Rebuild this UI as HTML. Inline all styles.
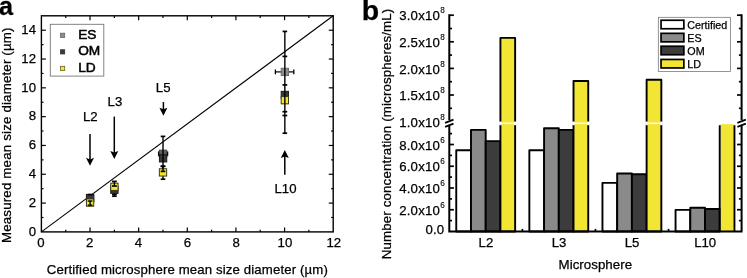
<!DOCTYPE html><html><head><meta charset="utf-8"><title>Figure</title><style>html,body{margin:0;padding:0;background:#fff}svg{display:block}text{font-family:"Liberation Sans",Arial,sans-serif;fill:#000;stroke:#000;stroke-width:0.25px}</style></head><body>
<svg width="747" height="278" viewBox="0 0 747 278">
<rect width="747" height="278" fill="#fff"/>
<g id="panelA">
<text transform="translate(-0.9,14.9) scale(0.95,1)" font-size="26.6" font-weight="bold">a</text>
<line x1="41.4" y1="231.9" x2="333.2" y2="15.8" stroke="#000" stroke-width="1.12"/>
<rect x="41.4" y="15.8" width="291.8" height="216.1" fill="none" stroke="#000" stroke-width="1.4"/>
<text x="36.0" y="235.60" font-size="13.2" text-anchor="end">0</text>
<line x1="41.4" y1="217.49" x2="43.5" y2="217.49" stroke="#000" stroke-width="1.2"/>
<line x1="333.2" y1="217.49" x2="331.09999999999997" y2="217.49" stroke="#000" stroke-width="1.2"/>
<line x1="41.4" y1="203.09" x2="45.8" y2="203.09" stroke="#000" stroke-width="1.2"/>
<line x1="333.2" y1="203.09" x2="328.8" y2="203.09" stroke="#000" stroke-width="1.2"/>
<text x="36.0" y="206.79" font-size="13.2" text-anchor="end">2</text>
<line x1="41.4" y1="188.68" x2="43.5" y2="188.68" stroke="#000" stroke-width="1.2"/>
<line x1="333.2" y1="188.68" x2="331.09999999999997" y2="188.68" stroke="#000" stroke-width="1.2"/>
<line x1="41.4" y1="174.27" x2="45.8" y2="174.27" stroke="#000" stroke-width="1.2"/>
<line x1="333.2" y1="174.27" x2="328.8" y2="174.27" stroke="#000" stroke-width="1.2"/>
<text x="36.0" y="177.97" font-size="13.2" text-anchor="end">4</text>
<line x1="41.4" y1="159.87" x2="43.5" y2="159.87" stroke="#000" stroke-width="1.2"/>
<line x1="333.2" y1="159.87" x2="331.09999999999997" y2="159.87" stroke="#000" stroke-width="1.2"/>
<line x1="41.4" y1="145.46" x2="45.8" y2="145.46" stroke="#000" stroke-width="1.2"/>
<line x1="333.2" y1="145.46" x2="328.8" y2="145.46" stroke="#000" stroke-width="1.2"/>
<text x="36.0" y="149.16" font-size="13.2" text-anchor="end">6</text>
<line x1="41.4" y1="131.05" x2="43.5" y2="131.05" stroke="#000" stroke-width="1.2"/>
<line x1="333.2" y1="131.05" x2="331.09999999999997" y2="131.05" stroke="#000" stroke-width="1.2"/>
<line x1="41.4" y1="116.65" x2="45.8" y2="116.65" stroke="#000" stroke-width="1.2"/>
<line x1="333.2" y1="116.65" x2="328.8" y2="116.65" stroke="#000" stroke-width="1.2"/>
<text x="36.0" y="120.35" font-size="13.2" text-anchor="end">8</text>
<line x1="41.4" y1="102.24" x2="43.5" y2="102.24" stroke="#000" stroke-width="1.2"/>
<line x1="333.2" y1="102.24" x2="331.09999999999997" y2="102.24" stroke="#000" stroke-width="1.2"/>
<line x1="41.4" y1="87.83" x2="45.8" y2="87.83" stroke="#000" stroke-width="1.2"/>
<line x1="333.2" y1="87.83" x2="328.8" y2="87.83" stroke="#000" stroke-width="1.2"/>
<text x="36.0" y="91.53" font-size="13.2" text-anchor="end">10</text>
<line x1="41.4" y1="73.43" x2="43.5" y2="73.43" stroke="#000" stroke-width="1.2"/>
<line x1="333.2" y1="73.43" x2="331.09999999999997" y2="73.43" stroke="#000" stroke-width="1.2"/>
<line x1="41.4" y1="59.02" x2="45.8" y2="59.02" stroke="#000" stroke-width="1.2"/>
<line x1="333.2" y1="59.02" x2="328.8" y2="59.02" stroke="#000" stroke-width="1.2"/>
<text x="36.0" y="62.72" font-size="13.2" text-anchor="end">12</text>
<line x1="41.4" y1="44.61" x2="43.5" y2="44.61" stroke="#000" stroke-width="1.2"/>
<line x1="333.2" y1="44.61" x2="331.09999999999997" y2="44.61" stroke="#000" stroke-width="1.2"/>
<line x1="41.4" y1="30.21" x2="45.8" y2="30.21" stroke="#000" stroke-width="1.2"/>
<line x1="333.2" y1="30.21" x2="328.8" y2="30.21" stroke="#000" stroke-width="1.2"/>
<text x="36.0" y="33.91" font-size="13.2" text-anchor="end">14</text>
<text x="40.90" y="247.0" font-size="13.2" text-anchor="middle">0</text>
<line x1="65.72" y1="231.9" x2="65.72" y2="229.8" stroke="#000" stroke-width="1.2"/>
<line x1="65.72" y1="15.8" x2="65.72" y2="17.900000000000002" stroke="#000" stroke-width="1.2"/>
<line x1="90.03" y1="231.9" x2="90.03" y2="227.5" stroke="#000" stroke-width="1.2"/>
<line x1="90.03" y1="15.8" x2="90.03" y2="20.200000000000003" stroke="#000" stroke-width="1.2"/>
<text x="89.70" y="247.0" font-size="13.2" text-anchor="middle">2</text>
<line x1="114.35" y1="231.9" x2="114.35" y2="229.8" stroke="#000" stroke-width="1.2"/>
<line x1="114.35" y1="15.8" x2="114.35" y2="17.900000000000002" stroke="#000" stroke-width="1.2"/>
<line x1="138.67" y1="231.9" x2="138.67" y2="227.5" stroke="#000" stroke-width="1.2"/>
<line x1="138.67" y1="15.8" x2="138.67" y2="20.200000000000003" stroke="#000" stroke-width="1.2"/>
<text x="138.51" y="247.0" font-size="13.2" text-anchor="middle">4</text>
<line x1="162.98" y1="231.9" x2="162.98" y2="229.8" stroke="#000" stroke-width="1.2"/>
<line x1="162.98" y1="15.8" x2="162.98" y2="17.900000000000002" stroke="#000" stroke-width="1.2"/>
<line x1="187.30" y1="231.9" x2="187.30" y2="227.5" stroke="#000" stroke-width="1.2"/>
<line x1="187.30" y1="15.8" x2="187.30" y2="20.200000000000003" stroke="#000" stroke-width="1.2"/>
<text x="187.31" y="247.0" font-size="13.2" text-anchor="middle">6</text>
<line x1="211.62" y1="231.9" x2="211.62" y2="229.8" stroke="#000" stroke-width="1.2"/>
<line x1="211.62" y1="15.8" x2="211.62" y2="17.900000000000002" stroke="#000" stroke-width="1.2"/>
<line x1="235.93" y1="231.9" x2="235.93" y2="227.5" stroke="#000" stroke-width="1.2"/>
<line x1="235.93" y1="15.8" x2="235.93" y2="20.200000000000003" stroke="#000" stroke-width="1.2"/>
<text x="236.11" y="247.0" font-size="13.2" text-anchor="middle">8</text>
<line x1="260.25" y1="231.9" x2="260.25" y2="229.8" stroke="#000" stroke-width="1.2"/>
<line x1="260.25" y1="15.8" x2="260.25" y2="17.900000000000002" stroke="#000" stroke-width="1.2"/>
<line x1="284.57" y1="231.9" x2="284.57" y2="227.5" stroke="#000" stroke-width="1.2"/>
<line x1="284.57" y1="15.8" x2="284.57" y2="20.200000000000003" stroke="#000" stroke-width="1.2"/>
<text x="284.92" y="247.0" font-size="13.2" text-anchor="middle">10</text>
<line x1="308.88" y1="231.9" x2="308.88" y2="229.8" stroke="#000" stroke-width="1.2"/>
<line x1="308.88" y1="15.8" x2="308.88" y2="17.900000000000002" stroke="#000" stroke-width="1.2"/>
<text x="333.72" y="247.0" font-size="13.2" text-anchor="middle">12</text>
<text x="46.8" y="273.5" font-size="13.2" textLength="281" lengthAdjust="spacing">Certified microsphere mean size diameter (µm)</text>
<text transform="translate(11.2,243) rotate(-90)" font-size="13.3" textLength="215.5" lengthAdjust="spacing">Measured mean size diameter (µm)</text>
<rect x="50.3" y="24.3" width="53.5" height="51.8" fill="#fff" stroke="#777" stroke-width="0.9"/>
<rect x="60.5" y="33.20" width="4.2" height="4.2" fill="#8c8c8c" stroke="#666" stroke-width="0.8"/>
<text x="78.2" y="38.70" font-size="13.7" style="stroke-width:0.55px">ES</text>
<rect x="60.5" y="49.75" width="4.2" height="4.2" fill="#3a3a3a" stroke="#333" stroke-width="0.8"/>
<text x="78.2" y="55.25" font-size="13.7" style="stroke-width:0.55px">OM</text>
<rect x="60.5" y="66.30" width="4.2" height="4.2" fill="#f4e62a" stroke="#6a6420" stroke-width="0.8"/>
<text x="78.2" y="71.80" font-size="13.7" style="stroke-width:0.55px">LD</text>
<rect x="86.45" y="194.35" width="7.3" height="7.3" fill="#8c8c8c" stroke="#6e6e6e" stroke-width="1.0"/>
<rect x="86.45" y="194.45" width="7.3" height="7.3" fill="#383838" stroke="#1c1c1c" stroke-width="1.0"/>
<rect x="86.45" y="198.95" width="7.3" height="7.3" fill="#f4e62a" stroke="#3a3a20" stroke-width="1.0"/>
<line x1="90.10" y1="201.00" x2="90.10" y2="205.20" stroke="#000" stroke-width="1.4"/>
<line x1="87.70" y1="201.00" x2="92.50" y2="201.00" stroke="#000" stroke-width="1.4"/>
<line x1="87.70" y1="205.20" x2="92.50" y2="205.20" stroke="#000" stroke-width="1.4"/>
<line x1="87.90" y1="194.60" x2="92.30" y2="194.60" stroke="#000" stroke-width="1.7"/>
<line x1="114.40" y1="189.00" x2="114.40" y2="196.20" stroke="#000" stroke-width="1.4"/><line x1="112.10" y1="189.00" x2="116.70" y2="189.00" stroke="#000" stroke-width="1.7"/><line x1="112.10" y1="196.20" x2="116.70" y2="196.20" stroke="#000" stroke-width="1.7"/>
<line x1="112.00" y1="194.40" x2="116.80" y2="194.40" stroke="#000" stroke-width="1.7"/>
<rect x="110.75" y="186.05" width="7.3" height="7.3" fill="#383838" stroke="#1c1c1c" stroke-width="1.0"/>
<rect x="110.75" y="183.15" width="7.3" height="7.3" fill="#f4e62a" stroke="#3a3a20" stroke-width="1.0"/>
<line x1="114.40" y1="181.40" x2="114.40" y2="186.00" stroke="#000" stroke-width="1.4"/>
<line x1="112.00" y1="181.40" x2="116.80" y2="181.40" stroke="#000" stroke-width="1.7"/>
<line x1="112.00" y1="186.00" x2="116.80" y2="186.00" stroke="#000" stroke-width="1.7"/>
<line x1="163.00" y1="166.40" x2="163.00" y2="179.20" stroke="#000" stroke-width="1.4"/><line x1="160.70" y1="166.40" x2="165.30" y2="166.40" stroke="#000" stroke-width="1.7"/><line x1="160.70" y1="179.20" x2="165.30" y2="179.20" stroke="#000" stroke-width="1.7"/>
<rect x="159.35" y="168.75" width="7.3" height="7.3" fill="#f4e62a" stroke="#3a3a20" stroke-width="1.0"/>
<line x1="158.60" y1="153.80" x2="167.60" y2="153.80" stroke="#000" stroke-width="1.2"/><line x1="158.60" y1="151.40" x2="158.60" y2="156.20" stroke="#000" stroke-width="1.3"/><line x1="167.60" y1="151.40" x2="167.60" y2="156.20" stroke="#000" stroke-width="1.3"/>
<rect x="159.35" y="150.15" width="7.3" height="7.3" fill="#5e5e5e" stroke="#444" stroke-width="1.0"/>
<rect x="159.45" y="154.65" width="7.3" height="7.3" fill="#383838" stroke="#1c1c1c" stroke-width="1.0"/>
<line x1="163.00" y1="136.40" x2="163.00" y2="171.40" stroke="#000" stroke-width="1.4"/><line x1="160.70" y1="136.40" x2="165.30" y2="136.40" stroke="#000" stroke-width="1.7"/><line x1="160.70" y1="171.40" x2="165.30" y2="171.40" stroke="#000" stroke-width="1.7"/>
<line x1="160.60" y1="166.20" x2="165.40" y2="166.20" stroke="#000" stroke-width="1.7"/>
<line x1="275.40" y1="71.90" x2="293.80" y2="71.90" stroke="#000" stroke-width="1.2"/><line x1="275.40" y1="69.50" x2="275.40" y2="74.30" stroke="#000" stroke-width="1.3"/><line x1="293.80" y1="69.50" x2="293.80" y2="74.30" stroke="#000" stroke-width="1.3"/>
<rect x="281.20" y="68.25" width="7.3" height="7.3" fill="#8c8c8c" stroke="#6e6e6e" stroke-width="1.0"/>
<rect x="281.20" y="91.35" width="7.3" height="7.3" fill="#383838" stroke="#1c1c1c" stroke-width="1.0"/>
<rect x="281.20" y="96.55" width="7.3" height="7.3" fill="#f4e62a" stroke="#3a3a20" stroke-width="1.0"/>
<line x1="284.85" y1="31.40" x2="284.85" y2="133.20" stroke="#000" stroke-width="1.4"/><line x1="282.55" y1="31.40" x2="287.15" y2="31.40" stroke="#000" stroke-width="1.7"/><line x1="282.55" y1="133.20" x2="287.15" y2="133.20" stroke="#000" stroke-width="1.7"/>
<line x1="282.45" y1="56.40" x2="287.25" y2="56.40" stroke="#000" stroke-width="1.7"/>
<line x1="282.45" y1="84.90" x2="287.25" y2="84.90" stroke="#000" stroke-width="1.7"/>
<line x1="282.45" y1="111.70" x2="287.25" y2="111.70" stroke="#000" stroke-width="1.7"/>
<line x1="282.45" y1="115.50" x2="287.25" y2="115.50" stroke="#000" stroke-width="1.7"/>
<line x1="90.0" y1="134.0" x2="90.0" y2="161.0" stroke="#000" stroke-width="1.5"/><polygon points="86.0,157.8 90.0,159.4 94.0,157.8 90.0,165.8" fill="#000"/>
<text x="90.3" y="121.4" font-size="13.2" text-anchor="middle">L2</text>
<line x1="114.3" y1="116.6" x2="114.3" y2="154.2" stroke="#000" stroke-width="1.5"/><polygon points="110.3,151.0 114.3,152.6 118.3,151.0 114.3,159.0" fill="#000"/>
<text x="114.9" y="106.2" font-size="13.2" text-anchor="middle">L3</text>
<line x1="163.4" y1="102" x2="163.4" y2="110.9" stroke="#000" stroke-width="1.5"/><polygon points="159.4,107.7 163.4,109.3 167.4,107.7 163.4,115.7" fill="#000"/>
<text x="163.2" y="91.9" font-size="13.2" text-anchor="middle">L5</text>
<line x1="284.8" y1="174.7" x2="284.8" y2="154.8" stroke="#000" stroke-width="1.5"/><polygon points="280.8,158.0 284.8,156.4 288.8,158.0 284.8,150.0" fill="#000"/>
<text x="285.5" y="193.0" font-size="13.2" text-anchor="middle">L10</text>
</g>
<g id="panelB">
<text x="361.7" y="20.2" font-size="28.5" font-weight="bold">b</text>
<rect x="456.26" y="150.20" width="14.72" height="81.30" fill="#fff" stroke="#000" stroke-width="1.9" stroke-linejoin="round"/>
<rect x="470.98" y="129.90" width="14.72" height="101.60" fill="#8a8a8a" stroke="#000" stroke-width="1.9" stroke-linejoin="round"/>
<rect x="485.70" y="141.10" width="14.72" height="90.40" fill="#3c3c3c" stroke="#000" stroke-width="1.9" stroke-linejoin="round"/>
<rect x="500.42" y="37.90" width="14.72" height="193.60" fill="#f2e533" stroke="#000" stroke-width="1.9" stroke-linejoin="round"/>
<rect x="529.36" y="150.20" width="14.72" height="81.30" fill="#fff" stroke="#000" stroke-width="1.9" stroke-linejoin="round"/>
<rect x="544.08" y="128.30" width="14.72" height="103.20" fill="#8a8a8a" stroke="#000" stroke-width="1.9" stroke-linejoin="round"/>
<rect x="558.80" y="129.90" width="14.72" height="101.60" fill="#3c3c3c" stroke="#000" stroke-width="1.9" stroke-linejoin="round"/>
<rect x="573.52" y="81.00" width="14.72" height="150.50" fill="#f2e533" stroke="#000" stroke-width="1.9" stroke-linejoin="round"/>
<rect x="602.46" y="182.90" width="14.72" height="48.60" fill="#fff" stroke="#000" stroke-width="1.9" stroke-linejoin="round"/>
<rect x="617.18" y="173.50" width="14.72" height="58.00" fill="#8a8a8a" stroke="#000" stroke-width="1.9" stroke-linejoin="round"/>
<rect x="631.90" y="174.30" width="14.72" height="57.20" fill="#3c3c3c" stroke="#000" stroke-width="1.9" stroke-linejoin="round"/>
<rect x="646.62" y="79.80" width="14.72" height="151.70" fill="#f2e533" stroke="#000" stroke-width="1.9" stroke-linejoin="round"/>
<rect x="675.56" y="209.90" width="14.72" height="21.60" fill="#fff" stroke="#000" stroke-width="1.9" stroke-linejoin="round"/>
<rect x="690.28" y="207.70" width="14.72" height="23.80" fill="#8a8a8a" stroke="#000" stroke-width="1.9" stroke-linejoin="round"/>
<rect x="705.00" y="209.00" width="14.72" height="22.50" fill="#3c3c3c" stroke="#000" stroke-width="1.9" stroke-linejoin="round"/>
<rect x="720.62" y="124.10" width="12.92" height="107.40" fill="#f2e533"/>
<path d="M719.72 125.2V231.5M734.44 125.2V231.5" stroke="#000" stroke-width="1.9" fill="none"/>
<rect x="452" y="122.6" width="286" height="1.5" fill="#fff"/>
<rect x="499.22" y="121.5" width="2.4" height="3.7" fill="#fff"/>
<rect x="513.94" y="121.5" width="2.4" height="3.7" fill="#fff"/>
<rect x="572.32" y="121.5" width="2.4" height="3.7" fill="#fff"/>
<rect x="587.04" y="121.5" width="2.4" height="3.7" fill="#fff"/>
<rect x="645.42" y="121.5" width="2.4" height="3.7" fill="#fff"/>
<rect x="660.14" y="121.5" width="2.4" height="3.7" fill="#fff"/>
<path d="M449.3 14.299999999999999V119.89999999999999M449.3 125.89999999999999V231.5H741.6V125.89999999999999M741.6 119.89999999999999V14.299999999999999" fill="none" stroke="#000" stroke-width="2.0" stroke-linejoin="miter"/>
<line x1="445.1" y1="122.89999999999999" x2="453.5" y2="119.7" stroke="#000" stroke-width="1.8"/>
<line x1="445.1" y1="126.89999999999999" x2="453.5" y2="123.7" stroke="#000" stroke-width="1.8"/>
<line x1="737.4" y1="122.89999999999999" x2="745.8000000000001" y2="119.7" stroke="#000" stroke-width="1.8"/>
<line x1="737.4" y1="126.89999999999999" x2="745.8000000000001" y2="123.7" stroke="#000" stroke-width="1.8"/>
<text x="399.2" y="126.70" font-size="13.2" textLength="40.6" lengthAdjust="spacing">1.0x10</text>
<text x="440.3" y="119.70" font-size="8.2" style="stroke-width:0.1px">8</text>
<line x1="449.3" y1="108.30" x2="452.0" y2="108.30" stroke="#000" stroke-width="1.7"/>
<line x1="741.6" y1="108.30" x2="738.9" y2="108.30" stroke="#000" stroke-width="1.7"/>
<line x1="449.3" y1="95.00" x2="453.90000000000003" y2="95.00" stroke="#000" stroke-width="1.7"/>
<line x1="741.6" y1="95.00" x2="737.0" y2="95.00" stroke="#000" stroke-width="1.7"/>
<text x="399.2" y="100.10" font-size="13.2" textLength="40.6" lengthAdjust="spacing">1.5x10</text>
<text x="440.3" y="93.10" font-size="8.2" style="stroke-width:0.1px">8</text>
<line x1="449.3" y1="81.70" x2="452.0" y2="81.70" stroke="#000" stroke-width="1.7"/>
<line x1="741.6" y1="81.70" x2="738.9" y2="81.70" stroke="#000" stroke-width="1.7"/>
<line x1="449.3" y1="68.40" x2="453.90000000000003" y2="68.40" stroke="#000" stroke-width="1.7"/>
<line x1="741.6" y1="68.40" x2="737.0" y2="68.40" stroke="#000" stroke-width="1.7"/>
<text x="399.2" y="73.50" font-size="13.2" textLength="40.6" lengthAdjust="spacing">2.0x10</text>
<text x="440.3" y="66.50" font-size="8.2" style="stroke-width:0.1px">8</text>
<line x1="449.3" y1="55.10" x2="452.0" y2="55.10" stroke="#000" stroke-width="1.7"/>
<line x1="741.6" y1="55.10" x2="738.9" y2="55.10" stroke="#000" stroke-width="1.7"/>
<line x1="449.3" y1="41.80" x2="453.90000000000003" y2="41.80" stroke="#000" stroke-width="1.7"/>
<line x1="741.6" y1="41.80" x2="737.0" y2="41.80" stroke="#000" stroke-width="1.7"/>
<text x="399.2" y="46.90" font-size="13.2" textLength="40.6" lengthAdjust="spacing">2.5x10</text>
<text x="440.3" y="39.90" font-size="8.2" style="stroke-width:0.1px">8</text>
<line x1="449.3" y1="28.50" x2="452.0" y2="28.50" stroke="#000" stroke-width="1.7"/>
<line x1="741.6" y1="28.50" x2="738.9" y2="28.50" stroke="#000" stroke-width="1.7"/>
<line x1="449.3" y1="15.20" x2="453.90000000000003" y2="15.20" stroke="#000" stroke-width="1.7"/>
<line x1="741.6" y1="15.20" x2="737.0" y2="15.20" stroke="#000" stroke-width="1.7"/>
<text x="399.2" y="20.30" font-size="13.2" textLength="40.6" lengthAdjust="spacing">3.0x10</text>
<text x="440.3" y="13.30" font-size="8.2" style="stroke-width:0.1px">8</text>
<text x="425.5" y="233.60" font-size="13.2" textLength="18.7" lengthAdjust="spacing">0.0</text>
<line x1="449.3" y1="220.62" x2="452.0" y2="220.62" stroke="#000" stroke-width="1.7"/>
<line x1="741.6" y1="220.62" x2="738.9" y2="220.62" stroke="#000" stroke-width="1.7"/>
<line x1="449.3" y1="209.75" x2="453.90000000000003" y2="209.75" stroke="#000" stroke-width="1.7"/>
<line x1="741.6" y1="209.75" x2="737.0" y2="209.75" stroke="#000" stroke-width="1.7"/>
<text x="399.2" y="214.85" font-size="13.2" textLength="40.6" lengthAdjust="spacing">2.0x10</text>
<text x="440.3" y="207.85" font-size="8.2" style="stroke-width:0.1px">6</text>
<line x1="449.3" y1="198.88" x2="452.0" y2="198.88" stroke="#000" stroke-width="1.7"/>
<line x1="741.6" y1="198.88" x2="738.9" y2="198.88" stroke="#000" stroke-width="1.7"/>
<line x1="449.3" y1="188.00" x2="453.90000000000003" y2="188.00" stroke="#000" stroke-width="1.7"/>
<line x1="741.6" y1="188.00" x2="737.0" y2="188.00" stroke="#000" stroke-width="1.7"/>
<text x="399.2" y="193.10" font-size="13.2" textLength="40.6" lengthAdjust="spacing">4.0x10</text>
<text x="440.3" y="186.10" font-size="8.2" style="stroke-width:0.1px">6</text>
<line x1="449.3" y1="177.12" x2="452.0" y2="177.12" stroke="#000" stroke-width="1.7"/>
<line x1="741.6" y1="177.12" x2="738.9" y2="177.12" stroke="#000" stroke-width="1.7"/>
<line x1="449.3" y1="166.25" x2="453.90000000000003" y2="166.25" stroke="#000" stroke-width="1.7"/>
<line x1="741.6" y1="166.25" x2="737.0" y2="166.25" stroke="#000" stroke-width="1.7"/>
<text x="399.2" y="171.35" font-size="13.2" textLength="40.6" lengthAdjust="spacing">6.0x10</text>
<text x="440.3" y="164.35" font-size="8.2" style="stroke-width:0.1px">6</text>
<line x1="449.3" y1="155.38" x2="452.0" y2="155.38" stroke="#000" stroke-width="1.7"/>
<line x1="741.6" y1="155.38" x2="738.9" y2="155.38" stroke="#000" stroke-width="1.7"/>
<line x1="449.3" y1="144.50" x2="453.90000000000003" y2="144.50" stroke="#000" stroke-width="1.7"/>
<line x1="741.6" y1="144.50" x2="737.0" y2="144.50" stroke="#000" stroke-width="1.7"/>
<text x="399.2" y="149.60" font-size="13.2" textLength="40.6" lengthAdjust="spacing">8.0x10</text>
<text x="440.3" y="142.60" font-size="8.2" style="stroke-width:0.1px">6</text>
<line x1="449.3" y1="133.62" x2="452.0" y2="133.62" stroke="#000" stroke-width="1.7"/>
<line x1="741.6" y1="133.62" x2="738.9" y2="133.62" stroke="#000" stroke-width="1.7"/>
<line x1="522.38" y1="231.5" x2="522.38" y2="228.9" stroke="#000" stroke-width="1.7"/>
<line x1="595.45" y1="231.5" x2="595.45" y2="228.9" stroke="#000" stroke-width="1.7"/>
<line x1="668.53" y1="231.5" x2="668.53" y2="228.9" stroke="#000" stroke-width="1.7"/>
<text x="485.9" y="246.5" font-size="13.2" text-anchor="middle">L2</text>
<text x="559.0" y="246.5" font-size="13.2" text-anchor="middle">L3</text>
<text x="632.1" y="246.5" font-size="13.2" text-anchor="middle">L5</text>
<text x="705.2" y="246.5" font-size="13.2" text-anchor="middle">L10</text>
<text x="558.6" y="269.0" font-size="13.3" textLength="73.5" lengthAdjust="spacing">Microsphere</text>
<text transform="translate(391,259.2) rotate(-90)" font-size="13.3" textLength="250.5" lengthAdjust="spacing">Number concentration (microspheres/mL)</text>
<rect x="658.3" y="17.3" width="72.3" height="54.2" fill="#fff" stroke="#707070" stroke-width="0.75"/>
<rect x="661.05" y="20.25" width="22.8" height="8.5" fill="#fff" stroke="#000" stroke-width="1.7"/>
<text x="687.3" y="28.60" font-size="10.75">Certified</text>
<rect x="661.05" y="33.35" width="22.8" height="8.5" fill="#8a8a8a" stroke="#000" stroke-width="1.7"/>
<text x="687.3" y="41.60" font-size="10.75">ES</text>
<rect x="661.05" y="46.25" width="22.8" height="8.5" fill="#3c3c3c" stroke="#000" stroke-width="1.7"/>
<text x="687.3" y="54.60" font-size="10.75">OM</text>
<rect x="661.05" y="59.45" width="22.8" height="8.5" fill="#f2e533" stroke="#000" stroke-width="1.7"/>
<text x="687.3" y="67.60" font-size="10.75">LD</text>
</g>
</svg></body></html>
